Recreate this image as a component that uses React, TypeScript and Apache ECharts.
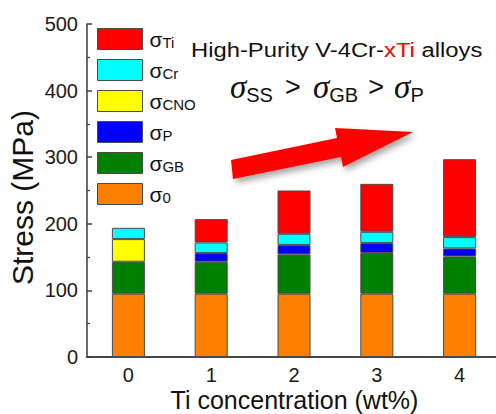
import React, { useEffect, useRef } from "react";
import * as echarts from "echarts";

// Ti content of the alloys (wt%)
const tiContent = ["0", "1", "2", "3", "4"];

// Strengthening contributions (MPa), stacked from the bottom up
const sigma0 = [95, 95, 95, 95, 95];
const sigmaGB = [48, 48, 59, 61, 56];
const sigmaCNO = [34, null, null, null, null];
const sigmaP = [null, 13, 14, 15, 12];
const sigmaCr = [17, 16, 17, 17, 17];
const sigmaTi = [null, 35, 65, 72, 117];

const yTicks = { min: 0, max: 500, interval: 100 };

const FONT = "Liberation Sans, Arial, sans-serif";
const SERIF = "Liberation Serif, Times New Roman, serif";
const AXIS_COLOR = "#3c3c3c";
const BAR_BORDER = "#4a4a4a";

const stackSeries = [
  { name: "0", data: sigma0, color: "#ff8000" },
  { name: "GB", data: sigmaGB, color: "#008000" },
  { name: "CNO", data: sigmaCNO, color: "#ffff00" },
  { name: "P", data: sigmaP, color: "#0000ff" },
  { name: "Cr", data: sigmaCr, color: "#00ffff" },
  { name: "Ti", data: sigmaTi, color: "#ff0000" },
];

const legendOrder = ["Ti", "Cr", "CNO", "P", "GB", "0"];

export default function App() {
  const ref = useRef<HTMLDivElement>(null);

  useEffect(() => {
    if (!ref.current) return;
    const chart = echarts.init(ref.current, undefined, { renderer: "svg" });

    const axisLine = { show: true, lineStyle: { color: AXIS_COLOR, width: 1.5 } };
    const inwardTick = {
      show: true,
      inside: true,
      length: 5,
      lineStyle: { color: AXIS_COLOR, width: 1.5 },
    };
    const minor = {
      show: true,
      splitNumber: 2,
      length: 3,
      lineStyle: { color: AXIS_COLOR, width: 1.2 },
    };

    chart.setOption({
      animation: false,
      backgroundColor: "#ffffff",
      textStyle: { fontFamily: FONT, color: "#1a1a1a" },
      grid: {
        left: 87,
        top: 24,
        width: 414,
        height: 333,
        containLabel: false,
        outerBoundsMode: "none",
      },
      legend: {
        data: legendOrder,
        orient: "vertical",
        left: 97,
        top: 28,
        padding: 0,
        itemWidth: 45,
        itemHeight: 21,
        itemGap: 9,
        icon: "rect",
        selectedMode: false,
        itemStyle: { borderColor: BAR_BORDER, borderWidth: 1 },
        formatter: (name: string) => `{s|σ}{b|${name}}`,
        textStyle: {
          padding: [0, 0, 0, 2],
          rich: {
            s: { fontFamily: FONT, fontSize: 21, lineHeight: 21, color: "#111" },
            b: {
              fontFamily: FONT,
              fontSize: 15,
              lineHeight: 8,
              verticalAlign: "bottom",
              color: "#111",
            },
          },
        },
      },
      xAxis: [
        {
          type: "category",
          data: tiContent,
          position: "bottom",
          axisLine,
          axisTick: { ...inwardTick, alignWithLabel: true },
          axisLabel: {
            fontSize: 20,
            lineHeight: 20,
            margin: 8,
            color: "#1a1a1a",
            fontFamily: FONT,
          },
        },
        {
          type: "category",
          data: tiContent,
          position: "top",
          axisLine,
          axisTick: { show: false },
          axisLabel: { show: false },
        },
      ],
      yAxis: [
        {
          type: "value",
          ...yTicks,
          position: "left",
          axisLine,
          axisTick: inwardTick,
          minorTick: minor,
          splitLine: { show: false },
          axisLabel: { fontSize: 20, margin: 9, color: "#1a1a1a", fontFamily: FONT },
        },
        {
          type: "value",
          ...yTicks,
          position: "right",
          axisLine,
          axisTick: inwardTick,
          minorTick: minor,
          splitLine: { show: false },
          axisLabel: { show: false },
        },
      ],
      series: stackSeries.map((s) => ({
        type: "bar",
        name: s.name,
        stack: "stress",
        data: s.data,
        barWidth: 33,
        itemStyle: { color: s.color, borderColor: BAR_BORDER, borderWidth: 1 },
      })),
      graphic: [
        // axis titles
        {
          type: "text",
          x: 22.5,
          y: 197.5,
          rotation: Math.PI / 2,
          style: {
            text: "Stress (MPa)",
            fontFamily: FONT,
            fontSize: 30,
            fill: "#111",
            align: "center",
            verticalAlign: "middle",
          },
        },
        {
          type: "text",
          x: 294.5,
          y: 400,
          style: {
            text: "Ti concentration (wt%)",
            fontFamily: FONT,
            fontSize: 25,
            lineHeight: 25,
            fill: "#111",
            align: "center",
            verticalAlign: "middle",
          },
        },
        // annotations
        {
          type: "text",
          x: 191,
          y: 50.5,
          scaleX: 1.19,
          style: {
            text: "{a|High-Purity V-4Cr-}{r|xTi}{a| alloys}",
            align: "left",
            verticalAlign: "middle",
            rich: {
              a: { fontFamily: FONT, fontSize: 20, fill: "#111" },
              r: { fontFamily: FONT, fontSize: 20, fill: "#ff0000" },
            },
          },
        },
        {
          type: "text",
          x: 230,
          y: 69,
          style: {
            text: "{s|σ}{b|SS}{g1|>}{s|σ}{b|GB}{g2|>}{s|σ}{b|P}",
            align: "left",
            verticalAlign: "top",
            rich: {
              s: {
                fontFamily: SERIF,
                fontStyle: "italic",
                fontSize: 33,
                lineHeight: 36,
                fill: "#111",
              },
              b: {
                fontFamily: FONT,
                fontSize: 20,
                lineHeight: 14,
                verticalAlign: "bottom",
                fill: "#111",
              },
              g1: {
                fontFamily: FONT,
                fontSize: 27,
                lineHeight: 36,
                width: 40,
                align: "center",
                fill: "#111",
              },
              g2: {
                fontFamily: FONT,
                fontSize: 27,
                lineHeight: 36,
                width: 36,
                align: "center",
                fill: "#111",
              },
            },
          },
        },
        {
          type: "polygon",
          shape: {
            points: [
              [231, 160],
              [337, 138],
              [335, 128],
              [413, 132],
              [343, 167],
              [341, 157],
              [233, 179],
            ],
          },
          style: {
            fill: "#ff0000",
            shadowBlur: 6,
            shadowColor: "rgba(0,0,0,0.35)",
            shadowOffsetX: 3,
            shadowOffsetY: 4,
          },
        },
      ],
    });

    return () => chart.dispose();
  }, []);

  return (
    <div
      ref={ref}
      style={{ position: "absolute", left: 0, top: 0, width: 496, height: 414 }}
    />
  );
}
